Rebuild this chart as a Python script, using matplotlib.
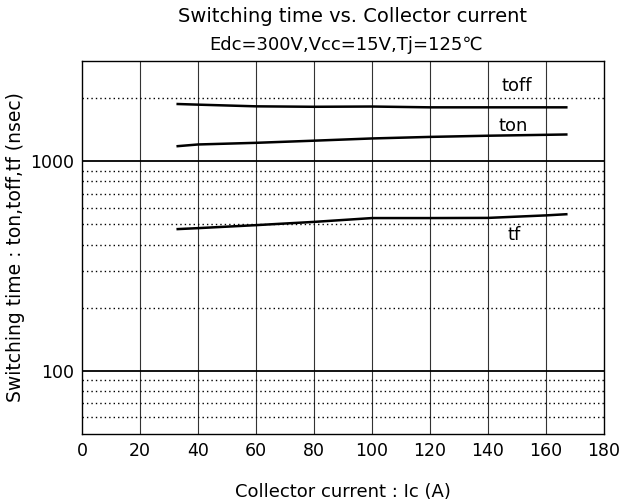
import matplotlib
matplotlib.use("Agg")
import matplotlib.pyplot as plt
from matplotlib.ticker import FixedLocator, NullFormatter

plt.rcParams['font.family'] = ['DejaVu Sans']

ic_toff = [33, 40, 60, 80, 100, 120, 140, 167]
toff = [1871, 1858, 1824, 1815, 1820, 1804, 1804, 1804]
ic_ton = [33, 40, 60, 80, 100, 120, 140, 167]
ton = [1178, 1200, 1222, 1251, 1282, 1304, 1321, 1339]
ic_tf = [33, 40, 60, 80, 100, 120, 140, 160, 167]
tf = [474, 479, 495, 513, 535, 535, 536, 551, 558]

x_ticks = [0, 20, 40, 60, 80, 100, 120, 140, 160, 180]
y_major = [100, 1000]
y_minor = [60, 70, 80, 90, 200, 300, 400, 500, 600, 700, 800, 900, 2000]

fig = plt.figure(figsize=(6.41, 5.01), dpi=100)
ax = fig.add_axes([82/641, 1-434/501, (604-82)/641, (434-61)/501])
ax.set_yscale('log')
ax.set_xlim(0, 180)
ax.set_ylim(50, 3000)

for xv in x_ticks[1:-1]:
    ax.axvline(xv, color='#333333', lw=0.8, zorder=1)
for yv in y_major:
    ax.axhline(yv, color='black', lw=1.3, zorder=1)
for yv in y_minor:
    ax.axhline(yv, color='black', lw=1.0, ls=(0, (1, 2.2)), zorder=1)

ax.plot(ic_toff, toff, color='black', lw=1.8, zorder=3)
ax.plot(ic_ton, ton, color='black', lw=1.8, zorder=3)
ax.plot(ic_tf, tf, color='black', lw=1.8, zorder=3)

ax.text(150, 2270, 'toff', fontsize=13, ha='center', va='center')
ax.text(148.6, 1466, 'ton', fontsize=13, ha='center', va='center')
ax.text(149, 445, 'tf', fontsize=13, ha='center', va='center')

ax.set_xticks(x_ticks)
ax.set_xticklabels([str(v) for v in x_ticks])
ax.yaxis.set_major_locator(FixedLocator(y_major))
ax.set_yticklabels([str(v) for v in y_major])
ax.yaxis.set_minor_locator(FixedLocator(y_minor))
ax.yaxis.set_minor_formatter(NullFormatter())
ax.tick_params(axis='both', which='both', length=0, labelsize=12.5, pad=6)

for s in ax.spines.values():
    s.set_linewidth(1.0)
    s.set_color('black')

ax.set_xlabel('Collector current : Ic (A)', fontsize=13, labelpad=16)
ax.set_ylabel('Switching time : ton,toff,tf (nsec)', fontsize=13.5, labelpad=3)
fig.text(352/641, 1-17/501, 'Switching time vs. Collector current', fontsize=14, ha='center', va='center')
fig.text(346/641, 1-45/501, 'Edc=300V,Vcc=15V,Tj=125\u2103', fontsize=13, ha='center', va='center')

fig.savefig('out.png', dpi=100)
